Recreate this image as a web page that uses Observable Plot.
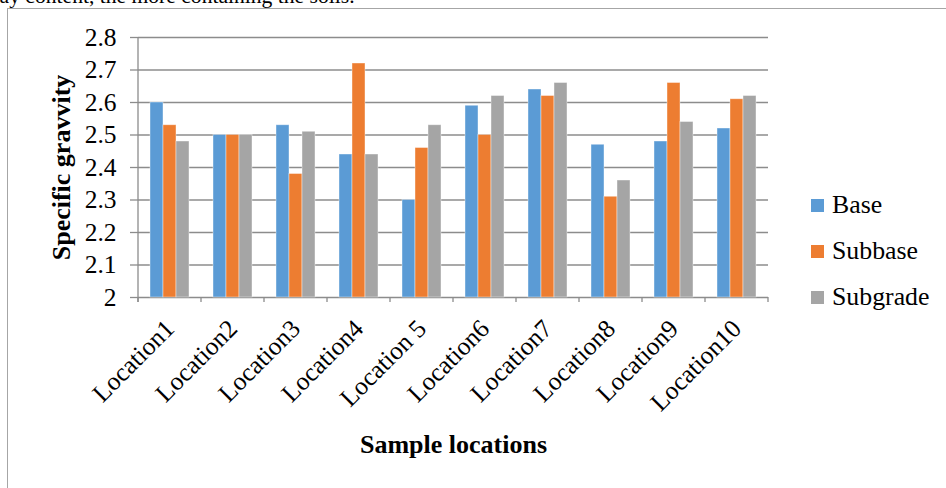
<!DOCTYPE html>
<html>
<head>
<meta charset="utf-8">
<script src="https://cdn.jsdelivr.net/npm/d3@7"></script>
<script src="https://cdn.jsdelivr.net/npm/@observablehq/plot@0.6"></script>
<style>
  html, body { margin: 0; padding: 0; background: #fff; width: 946px; height: 488px; overflow: hidden; }
  #wrap { position: relative; width: 946px; height: 488px; overflow: hidden; font-family: "Liberation Serif", "Times New Roman", serif; color: #000; }
  #frag { position: absolute; left: -16px; top: -14px; font-size: 21.6px; line-height: 1; white-space: nowrap; }
  #frame { position: absolute; left: 7px; top: 8px; width: 980px; height: 520px; border: 1.5px solid #a6a6a6; box-sizing: border-box; }
  #chart { position: absolute; left: 0; top: 0; }
  #legend { position: absolute; left: 811px; top: 190px; font-size: 25.8px; font-family: "Liberation Serif", "Times New Roman", serif; }
  #legend .row { display: flex; align-items: center; height: 30px; margin-bottom: 16px; }
  #legend .sw { width: 13px; height: 13px; margin-right: 8px; }
  svg g[aria-label="y-axis label"] text, svg g[aria-label="fx-axis label"] text { font-weight: bold; font-size: 26px; }
</style>
</head>
<body>
<div id="wrap">
  <div id="frag">clay content, the more containing the soils.</div>
  <div id="frame"></div>
  <div id="chart"></div>
  <div id="legend"></div>
</div>
<script>
const locations = ["Location1", "Location2", "Location3", "Location4", "Location 5", "Location6", "Location7", "Location8", "Location9", "Location10"];
const seriesNames = ["Base", "Subbase", "Subgrade"];
const base     = [2.60, 2.50, 2.53, 2.44, 2.30, 2.59, 2.64, 2.47, 2.48, 2.52];
const subbase  = [2.53, 2.50, 2.38, 2.72, 2.46, 2.50, 2.62, 2.31, 2.66, 2.61];
const subgrade = [2.48, 2.50, 2.51, 2.44, 2.53, 2.62, 2.66, 2.36, 2.54, 2.62];
const colors = ["#5B9BD5", "#ED7D31", "#A5A5A5"];
const yTicks = [2, 2.1, 2.2, 2.3, 2.4, 2.5, 2.6, 2.7, 2.8];
const yTickLabels = ["2", "2.1", "2.2", "2.3", "2.4", "2.5", "2.6", "2.7", "2.8"];
const yBase = 2;

const seriesValues = [base, subbase, subgrade];
const data = locations.flatMap((loc, i) =>
  seriesNames.map((s, j) => ({loc, series: s, value: seriesValues[j][i]})));

const gridColor = "#8c8c8c";

// Excel-style boundary ticks on the category axis + y axis line (drawn once, over the whole plot)
function boundaryTicks(index, scales) {
  const fx = scales.fx, y = scales.y;
  const g = d3.create("svg:g").attr("stroke", gridColor).attr("stroke-width", 1.3);
  if (!fx || !y) return g.node();
  const x0 = fx(locations[0]);
  const bw = fx(locations[1]) - x0;
  const edges = locations.map(l => fx(l)).concat([fx(locations[locations.length - 1]) + bw]);
  const y0 = y(yBase);
  g.selectAll("line.t").data(edges).join("line")
    .attr("x1", d => d).attr("x2", d => d)
    .attr("y1", y0).attr("y2", y0 + 5);
  g.append("line").attr("x1", x0).attr("x2", x0)
    .attr("y1", y(yTicks[yTicks.length - 1])).attr("y2", y0 + 5);
  return g.node();
}

const chart = Plot.plot({
  width: 790,
  height: 488,
  marginLeft: 136,
  marginRight: 20,
  marginTop: 37,
  marginBottom: 191,
  style: {fontFamily: "Liberation Serif, Times New Roman, serif", fontSize: "25.5px", color: "#000", background: "transparent", overflow: "visible"},
  fx: {domain: locations, padding: 0},
  x: {domain: seriesNames, paddingInner: 0, paddingOuter: 0.76, axis: null},
  y: {domain: [2, 2.8]},
  color: {domain: seriesNames, range: colors},
  marks: [
    Plot.gridY(yTicks, {stroke: gridColor, strokeOpacity: 1, strokeWidth: 1.3}),
    Plot.axisY({ticks: yTicks, tickFormat: (d, i) => yTickLabels[i], tickSize: 8, tickPadding: 14, stroke: gridColor, strokeWidth: 1.3,
      label: "Specific gravvity", labelAnchor: "center", labelArrow: "none", labelOffset: 87}),
    Plot.axisFx({anchor: "bottom", tickSize: 0, tickPadding: 27, tickRotate: -45, label: "Sample locations", labelAnchor: "center", labelArrow: "none", labelOffset: 155}),
    Plot.barY(data, {fx: "loc", x: "series", y1: yBase, y2: "value", fill: "series", stroke: "#fff", strokeOpacity: 0.5, strokeWidth: 0.8}),
    Plot.frame({facet: "super", render: boundaryTicks})
  ]
});
document.getElementById("chart").appendChild(chart);

const legend = d3.select("#legend");
seriesNames.forEach((s, i) => {
  const row = legend.append("div").attr("class", "row");
  row.append("div").attr("class", "sw").style("background", colors[i]);
  row.append("span").text(s);
});
</script>
</body>
</html>
